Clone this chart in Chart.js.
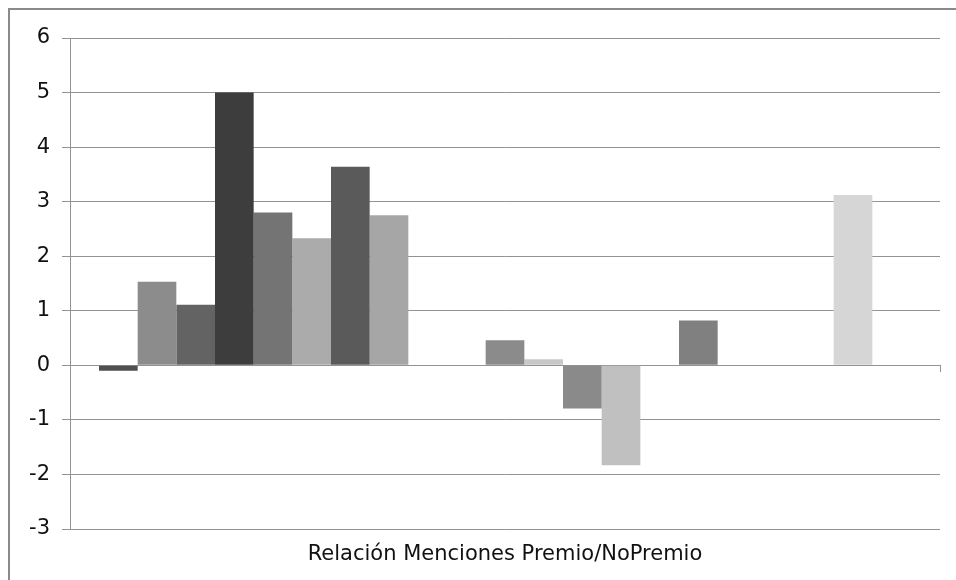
<!DOCTYPE html>
<html>
<head>
<meta charset="utf-8">
<script src="https://cdn.jsdelivr.net/npm/chart.js@4.4.1/dist/chart.umd.min.js"></script>
<style>
  html, body { margin: 0; padding: 0; background: #fff; overflow: hidden; }
  #frame {
    position: absolute; left: 8px; top: 8px; width: 2000px; height: 2000px;
    border-left: 2px solid #8a8a8a; border-top: 2px solid #8a8a8a;
  }
  #barChart { position: absolute; left: 0; top: 0; }
</style>
</head>
<body>
<div id="frame"></div>
<canvas id="barChart" width="956" height="580"></canvas>
<script>
// Single category, one bar per series
const categories = ['Relación Menciones Premio/NoPremio'];

const seriesNames = [
  'Serie 1', 'Serie 2', 'Serie 3', 'Serie 4', 'Serie 5', 'Serie 6', 'Serie 7',
  'Serie 8', 'Serie 9', 'Serie 10', 'Serie 11', 'Serie 12', 'Serie 13', 'Serie 14',
  'Serie 15', 'Serie 16', 'Serie 17', 'Serie 18', 'Serie 19', 'Serie 20', 'Serie 21'
];

const seriesValues = [
  -0.1, 1.53, 1.11, 5.0, 2.8, 2.33, 3.64,
  2.75, null, null, 0.46, 0.11, -0.79, -1.83,
  null, 0.82, null, null, null, 3.12, null
];

const seriesColors = [
  '#4f4f4f', '#8c8c8c', '#636363', '#3d3d3d', '#747474', '#ababab', '#5a5a5a',
  '#a6a6a6', '#969696', '#b2b2b2', '#8b8b8b', '#c8c8c8', '#8a8a8a', '#c0c0c0',
  '#9c9c9c', '#808080', '#b8b8b8', '#6e6e6e', '#a0a0a0', '#d6d6d6', '#c4c4c4'
];

const yTicks = { min: -3, max: 6, step: 1 };

const lineGray = '#939393';
const textFont = { family: 'DejaVu Sans', size: 21 };

const datasets = seriesNames.map((name, i) => ({
  label: name,
  data: [seriesValues[i]],
  backgroundColor: seriesColors[i],
  borderWidth: 0,
  xAxisID: 'x',
  yAxisID: 'y'
}));

new Chart(document.getElementById('barChart'), {
  type: 'bar',
  data: { labels: categories, datasets: datasets },
  options: {
    responsive: false,
    animation: false,
    categoryPercentage: 812 / 870,
    barPercentage: 1,
    layout: { padding: { top: 38, right: 16, left: 0, bottom: 0 } },
    plugins: {
      legend: { display: false },
      tooltip: { enabled: false }
    },
    scales: {
      // category axis crossing at zero
      x: {
        type: 'category',
        position: { y: 0 },
        ticks: { display: false },
        grid: {
          offset: true,
          drawOnChartArea: false,
          tickLength: 6,
          color: lineGray
        },
        border: { display: true, color: lineGray, width: 1 }
      },
      // bottom axis carries only the category name
      x2: {
        type: 'category',
        position: 'bottom',
        grid: { display: false },
        border: { display: false },
        ticks: { font: textFont, color: '#111', padding: 5 },
        afterFit: (scale) => { scale.height = 51; }
      },
      y: {
        min: yTicks.min,
        max: yTicks.max,
        ticks: {
          stepSize: yTicks.step,
          font: textFont,
          color: '#111',
          padding: 12
        },
        grid: { color: lineGray, tickLength: 8 },
        border: { display: true, color: lineGray, width: 1 },
        afterFit: (scale) => { scale.width = 70; }
      }
    }
  }
});
</script>
</body>
</html>
